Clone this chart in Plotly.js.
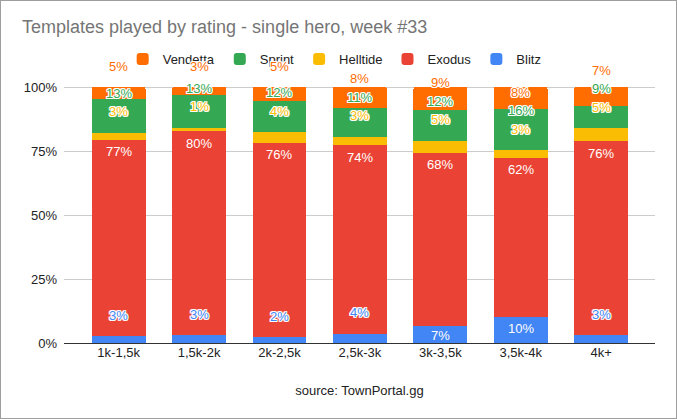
<!DOCTYPE html>
<html>
<head>
<meta charset="utf-8">
<script src="https://cdn.plot.ly/plotly-3.1.2.min.js"></script>
<style>
  body { margin: 0; background: #fff; }
  #chart { width: 677px; height: 419px; box-sizing: border-box; border: 1px solid #9e9e9e; }
</style>
</head>
<body>
<div id="chart"></div>
<script>
const categories = ["1k-1,5k", "1,5k-2k", "2k-2,5k", "2,5k-3k", "3k-3,5k", "3,5k-4k", "4k+"];

// share of games (%) per rating bracket
const blitz    = [2.7, 3.1, 2.2, 3.6, 6.6, 10.2, 3.1];
const exodus   = [76.6, 79.6, 76.1, 73.7, 67.7, 62.1, 75.8];
const helltide = [2.9, 1.3, 4.0, 3.2, 4.8, 2.9, 5.0];
const sprint   = [13.2, 12.7, 12.3, 11.3, 11.8, 16.4, 8.8];
const vendetta = [4.6, 3.3, 5.4, 8.2, 9.1, 8.4, 7.3];

const seriesNames = ["Blitz", "Exodus", "Helltide", "Sprint", "Vendetta"];
const seriesValues = [blitz, exodus, helltide, sprint, vendetta];
const seriesColors = ["#4285f4", "#ea4335", "#fbbc04", "#34a853", "#ff6d01"];

const FONT = "Liberation Sans, Arial, sans-serif";
const W = 675, H = 417;
// y range goes past 100 so the labels above the bars stay inside the axis
const Y_MAX = 125;
const margin = { l: 63, r: 21, t: 22, b: 75, autoexpand: false };
const pxPerUnit = (H - margin.t - margin.b) / Y_MAX;

const halo = [
  "-1px -1px 0 #fff", "1px -1px 0 #fff", "-1px 1px 0 #fff", "1px 1px 0 #fff",
  "0 -1px 0 #fff", "0 1px 0 #fff", "-1px 0 0 #fff", "1px 0 0 #fff",
].join(", ");

const traces = seriesNames.map((name, s) => ({
  type: "bar",
  name: name,
  x: categories,
  y: seriesValues[s],
  marker: { color: seriesColors[s], line: { width: 0 } },
  hoverinfo: "skip",
}));

// Sheets-like label placement: inside the segment top when it fits,
// otherwise just above it, then pushed up to avoid the label below
const annotations = [];
categories.forEach((cat, i) => {
  let bottom = 0;
  let prev = -Infinity;
  seriesValues.forEach((vals, s) => {
    const v = vals[i];
    const top = bottom + v;
    const hPx = v * pxPerUnit;
    const topPx = top * pxPerUnit;
    const fits = hPx >= 15;
    let y = fits ? Math.max(topPx - 12, bottom * pxPerUnit + 8) : topPx + 21;
    let moved = !fits;
    if (y < prev + 18.5) {
      y = prev + 18.5;
      moved = true;
    }
    prev = y;
    annotations.push({
      x: cat,
      y: y / pxPerUnit,
      xref: "x",
      yref: "y",
      text: Math.round(v) + "%",
      showarrow: false,
      yanchor: "middle",
      font: {
        family: FONT,
        size: 13,
        color: moved ? seriesColors[s] : "#ffffff",
        shadow: moved ? halo : "none",
      },
    });
    bottom = top;
  });
});

const layout = {
  width: W,
  height: H,
  margin: margin,
  paper_bgcolor: "#ffffff",
  plot_bgcolor: "#ffffff",
  barmode: "stack",
  bargap: 0.33,
  barcornerradius: 2,
  hovermode: false,
  font: { family: FONT, size: 13, color: "#222222" },
  title: {
    text: "Templates played by rating - single hero, week #33",
    font: { family: FONT, size: 18, color: "#757575" },
    xref: "container",
    yref: "container",
    x: 21 / W,
    xanchor: "left",
    y: 1 - 26 / H,
    yanchor: "middle",
  },
  legend: {
    orientation: "h",
    traceorder: "reversed",
    xref: "paper",
    yref: "container",
    x: 0.458,
    xanchor: "center",
    y: 1 - 58 / H,
    yanchor: "middle",
    bgcolor: "#ffffff",
    font: { family: FONT, size: 13, color: "#222222" },
  },
  xaxis: {
    type: "category",
    range: [-0.68, 6.67],
    showgrid: false,
    ticks: "",
    tickfont: { family: FONT, size: 13, color: "#222222" },
    title: {
      text: "source: TownPortal.gg",
      font: { family: FONT, size: 13, color: "#222222" },
      standoff: 26,
    },
  },
  yaxis: {
    range: [0, Y_MAX],
    tickvals: [0, 25, 50, 75, 100],
    ticktext: ["0%", "25%", "50%", "75%", "100%"],
    ticks: "",
    ticklabelstandoff: 6,
    showgrid: true,
    gridcolor: "#cccccc",
    zeroline: true,
    zerolinecolor: "#333333",
    zerolinewidth: 1,
    tickfont: { family: FONT, size: 13, color: "#222222" },
  },
  annotations: annotations,
};

Plotly.newPlot("chart", traces, layout, { staticPlot: true, displayModeBar: false });
</script>
</body>
</html>
